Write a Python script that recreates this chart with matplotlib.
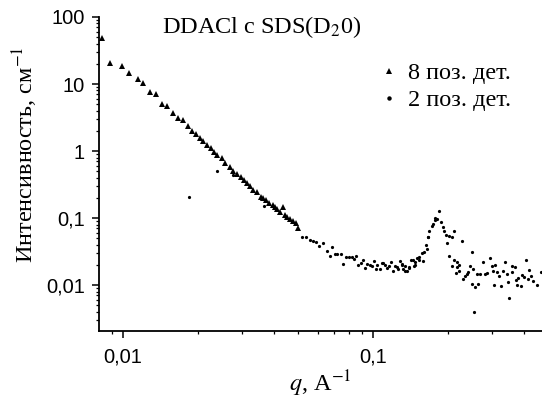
import numpy as np
import matplotlib
matplotlib.use('Agg')
import matplotlib.pyplot as plt
from matplotlib import rcParams
from matplotlib.ticker import FixedLocator, LogLocator, FuncFormatter, NullFormatter
from matplotlib.lines import Line2D

# шрифты: подписи с засечками, цифры на осях без засечек
rcParams['font.family'] = ['Liberation Serif', 'DejaVu Serif']
rcParams['mathtext.fontset'] = 'stix'

# 8 поз. дет. (треугольники)
q_8 = [0.00828, 0.00889, 0.00994, 0.01057, 0.01145, 0.01205, 0.01288, 0.01358,
       0.01426, 0.01503, 0.01580, 0.01665, 0.01734, 0.01816, 0.01891, 0.01959,
       0.02032, 0.02099, 0.02168, 0.02249, 0.02312, 0.02383, 0.02483, 0.02559,
       0.02679, 0.02761, 0.02851, 0.02958, 0.03048, 0.03141, 0.03223, 0.03321,
       0.03428, 0.03556, 0.03640, 0.03733, 0.03846, 0.03972, 0.04055, 0.04141,
       0.04246, 0.04375, 0.04446, 0.04539, 0.04656, 0.04798, 0.04922, 0.05025]
i_8 = [48.1, 20.9, 18.7, 14.4, 11.9, 10.5, 7.52, 7.02,
       4.98, 4.62, 3.67, 3.08, 2.88, 2.38, 2.00, 1.82,
       1.55, 1.40, 1.21, 1.10, 0.977, 0.871, 0.778, 0.655,
       0.583, 0.508, 0.454, 0.405, 0.369, 0.330, 0.301, 0.262,
       0.247, 0.208, 0.197, 0.186, 0.166, 0.156, 0.148, 0.135,
       0.124, 0.148, 0.111, 0.104, 0.0957, 0.0912, 0.0834, 0.0702]

# 2 поз. дет. (точки)
q_2 = [0.0183, 0.0238, 0.0275, 0.0367,
       0.0519, 0.0540, 0.0560, 0.0577, 0.0592, 0.0610, 0.0633, 0.0653, 0.0673, 0.0687,
       0.0705, 0.0720, 0.0743, 0.0761, 0.0780, 0.0804, 0.0822, 0.0839, 0.0855, 0.0874,
       0.0893, 0.0915, 0.0929, 0.0949, 0.0973, 0.0988, 0.1009, 0.1028, 0.1040, 0.1067,
       0.1083, 0.1100, 0.1117, 0.1141, 0.1162, 0.1177, 0.1205, 0.1225, 0.1244, 0.1262,
       0.1282, 0.1302, 0.1322, 0.1343, 0.1371, 0.1397, 0.1419, 0.1442, 0.1459, 0.1476,
       0.1504, 0.1532, 0.1566, 0.1600, 0.1630, 0.1649, 0.1660, 0.1679, 0.1718, 0.1742,
       0.1770, 0.1807, 0.1841, 0.1875, 0.1901, 0.1923, 0.1959, 0.1972, 0.2018, 0.2065,
       0.2109, 0.2018, 0.2065, 0.2109, 0.2163, 0.2208, 0.2148, 0.2173, 0.2264, 0.2213,
       0.2296, 0.2333, 0.2371, 0.2404, 0.2443, 0.2495, 0.2483, 0.2518, 0.2559, 0.2535,
       0.2600, 0.2637, 0.2679, 0.2747, 0.2805, 0.2851, 0.2938, 0.2985, 0.3013, 0.3048,
       0.3076, 0.3126, 0.3192, 0.3251, 0.3319, 0.3373, 0.3427, 0.3475, 0.3499, 0.3589,
       0.3606, 0.3698, 0.3733, 0.3776, 0.3811, 0.3899, 0.3936, 0.4018, 0.4083, 0.4159,
       0.4217, 0.4276, 0.4375, 0.4539, 0.4688,
       0.1302, 0.1343, 0.1397, 0.1476, 0.1532, 0.1587, 0.1660, 0.1773]
i_2 = [0.206, 0.508, 0.438, 0.151,
       0.0515, 0.0515, 0.0469, 0.0449, 0.0434, 0.0378, 0.0419, 0.0325, 0.0268, 0.0373,
       0.0287, 0.0287, 0.0287, 0.0208, 0.0259, 0.0264, 0.0264, 0.0244, 0.0268, 0.0199,
       0.0211, 0.0239, 0.0178, 0.0206, 0.0199, 0.0190, 0.0226, 0.0173, 0.0199, 0.0173,
       0.0213, 0.0213, 0.0199, 0.0178, 0.0190, 0.0218, 0.0163, 0.0194, 0.0188, 0.0173,
       0.0228, 0.0199, 0.0173, 0.0190, 0.0160, 0.0178, 0.0239, 0.0239, 0.0194, 0.0223,
       0.0250, 0.0262, 0.0300, 0.0314, 0.0395, 0.0344, 0.0515, 0.0646, 0.0767, 0.0805,
       0.1010, 0.0966, 0.1270, 0.0863, 0.0726, 0.0646, 0.0557, 0.0424, 0.0533, 0.0515,
       0.0646, 0.0274, 0.0194, 0.0239, 0.0223, 0.0199, 0.0150, 0.0184, 0.0458, 0.0163,
       0.0123, 0.0138, 0.0146, 0.0155, 0.0194, 0.0314, 0.0104, 0.0173, 0.0092, 0.0039,
       0.0146, 0.0104, 0.0146, 0.0223, 0.0146, 0.0151, 0.0250, 0.0194, 0.0163, 0.0100,
       0.0199, 0.0155, 0.0138, 0.0096, 0.0163, 0.0223, 0.0146, 0.0110, 0.0064, 0.0158,
       0.0190, 0.0184, 0.0120, 0.0100, 0.0126, 0.0096, 0.0141, 0.0130, 0.0239, 0.0123,
       0.0169, 0.0135, 0.0116, 0.0100, 0.0155,
       0.0206, 0.0163, 0.0184, 0.0199, 0.0239, 0.0228, 0.0526, 0.0921]

y_ticks = [0.01, 0.1, 1, 10, 100]
x_ticks = [0.01, 0.1]


def comma_fmt(v, pos=None):
    return ('%g' % v).replace('.', ',')


fig = plt.figure(figsize=(5.42, 4.0), dpi=100)
ax = fig.add_axes([99 / 542, 69 / 400, 443 / 542, 314 / 400])

ax.plot(q_2, i_2, linestyle='none', marker='o', markersize=2.3,
        color='black', markeredgewidth=0)
ax.plot(q_8, i_8, linestyle='none', marker='^', markersize=4.8,
        color='black', markeredgewidth=0)

ax.set_xscale('log')
ax.set_yscale('log')
ax.set_xlim(0.00802, 0.474)
ax.set_ylim(0.00206, 100)

ax.spines['top'].set_visible(False)
ax.spines['right'].set_visible(False)
ax.spines['left'].set_linewidth(1.3)
ax.spines['bottom'].set_linewidth(1.3)

ax.xaxis.set_major_locator(FixedLocator(x_ticks))
ax.yaxis.set_major_locator(FixedLocator(y_ticks))
ax.xaxis.set_minor_locator(LogLocator(base=10, subs=np.arange(2, 10)))
ax.yaxis.set_minor_locator(LogLocator(base=10, subs=np.arange(2, 10)))
ax.xaxis.set_major_formatter(FuncFormatter(comma_fmt))
ax.yaxis.set_major_formatter(FuncFormatter(comma_fmt))
ax.xaxis.set_minor_formatter(NullFormatter())
ax.yaxis.set_minor_formatter(NullFormatter())
ax.tick_params(which='major', direction='out', length=5, width=1.1,
               labelsize=14.5, pad=5)
ax.tick_params(axis='x', which='major', pad=7)
ax.tick_params(which='minor', direction='out', length=2.5, width=0.9)
for lab in ax.get_xticklabels() + ax.get_yticklabels():
    lab.set_fontfamily('Liberation Sans')

fig.text(320 / 542, 1 - 391 / 400, '$q$, A$^{-1}$', fontsize=17.5,
         ha='center', va='baseline')

fig.text(25 / 542, 1 - 155 / 400, 'Интенсивность, см$^{-1}$', fontsize=17.5,
         rotation=90, ha='center', va='center')

fig.text(262 / 542, 1 - 33 / 400, 'DDACl с SDS(D$_2$0)', fontsize=17.5,
         ha='center', va='baseline')

handles = [Line2D([], [], linestyle='none', marker='^', markersize=4.5,
                  color='black', markeredgewidth=0),
           Line2D([], [], linestyle='none', marker='o', markersize=3.2,
                  color='black', markeredgewidth=0)]
ax.legend(handles, ['8 поз. дет.', '2 поз. дет.'], loc='upper left',
          bbox_to_anchor=(378 / 542, 1 - 62 / 400), bbox_transform=fig.transFigure,
          frameon=False, fontsize=17.5, handlelength=0.9, handletextpad=0.35,
          labelspacing=0.21, borderaxespad=0, borderpad=0)

fig.savefig('out.png', dpi=100)
